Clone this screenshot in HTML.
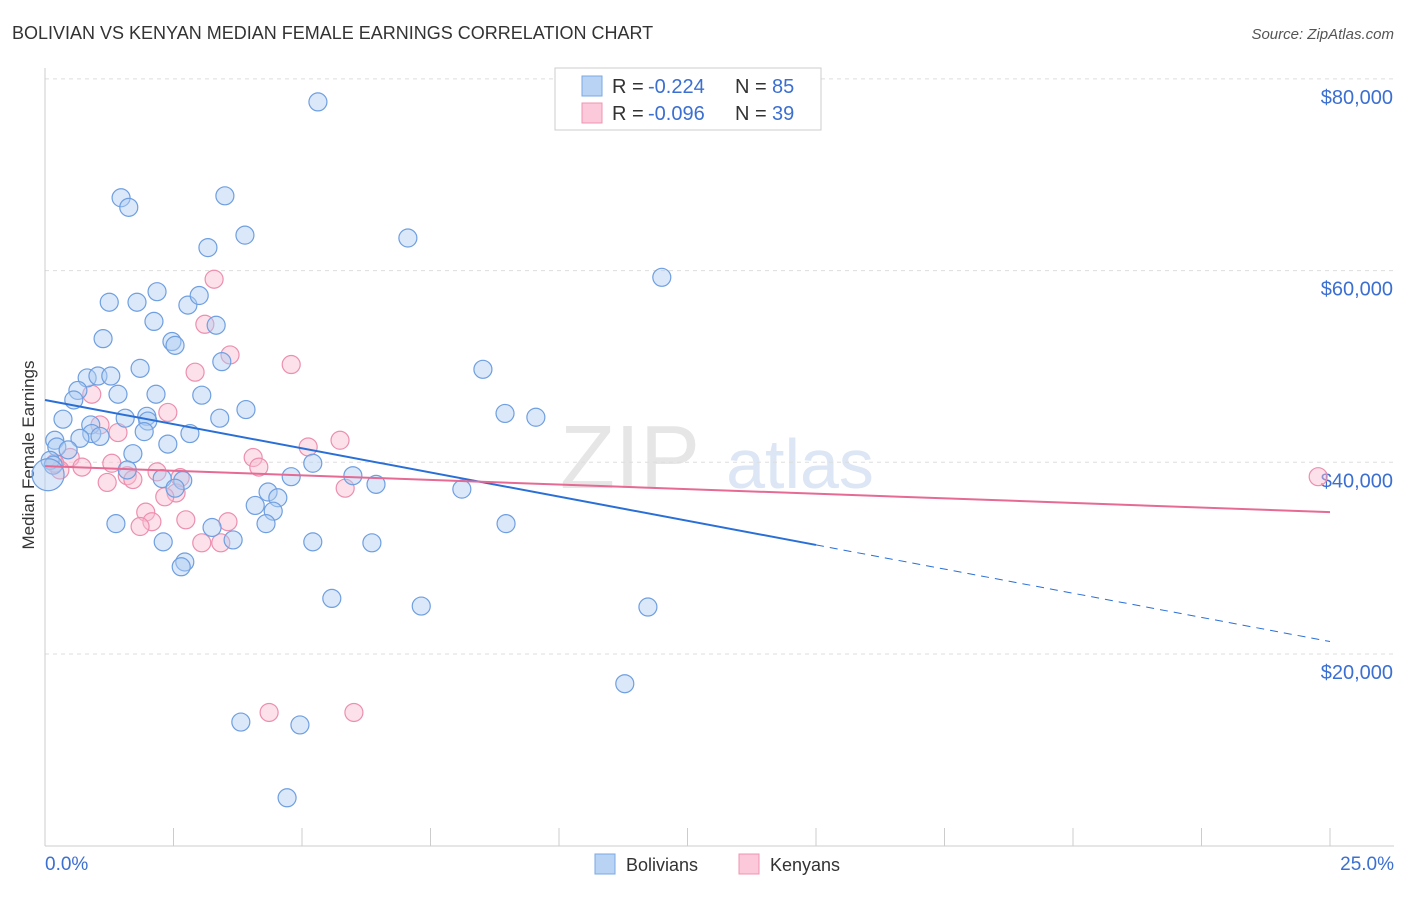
<!DOCTYPE html>
<html><head><meta charset="utf-8"><style>
body{margin:0;background:#fff;font-family:"Liberation Sans",sans-serif;}
svg text{font-family:"Liberation Sans",sans-serif;}
</style></head><body>
<svg id="c" width="1406" height="892">
<text x="12" y="39" font-size="18" fill="#333">BOLIVIAN VS KENYAN MEDIAN FEMALE EARNINGS CORRELATION CHART</text>
<text x="1394" y="39" font-size="15" fill="#555" font-style="italic" text-anchor="end">Source: ZipAtlas.com</text>
<text x="630" y="488" font-size="90" fill="#e6e6e6" font-family="Liberation Serif" text-anchor="middle">ZIP</text>
<text x="800" y="488" font-size="70" fill="#dce6f4" text-anchor="middle">atlas</text>
<text x="34" y="455" font-size="17" fill="#333" text-anchor="middle" transform="rotate(-90 34 455)">Median Female Earnings</text>
<g id="g"></g>
<g>
<rect x="555" y="68" width="266" height="62" fill="#fff" stroke="#ccc"/>
<rect x="582" y="76" width="20" height="20" fill="#b9d3f5" stroke="#7aa8e4"/>
<rect x="582" y="103" width="20" height="20" fill="#fbc9d9" stroke="#ef94b2"/>
<text x="612" y="93" font-size="20" fill="#333">R =</text>
<text x="648" y="93" font-size="20" fill="#3b6fd1">-0.224</text>
<text x="735" y="93" font-size="20" fill="#333">N =</text>
<text x="772" y="93" font-size="20" fill="#3b6fd1">85</text>
<text x="612" y="120" font-size="20" fill="#333">R =</text>
<text x="648" y="120" font-size="20" fill="#3b6fd1">-0.096</text>
<text x="735" y="120" font-size="20" fill="#333">N =</text>
<text x="772" y="120" font-size="20" fill="#3b6fd1">39</text>
</g>
<g>
<rect x="595" y="854" width="20" height="20" fill="#b9d3f5" stroke="#7aa8e4"/>
<text x="626" y="871" font-size="18" fill="#333">Bolivians</text>
<rect x="739" y="854" width="20" height="20" fill="#fbc9d9" stroke="#ef94b2"/>
<text x="770" y="871" font-size="18" fill="#333">Kenyans</text>
</g>
</svg>
<script>
const yTicks=[20000,40000,60000,80000];
const yTickLabels=["$20,000","$40,000","$60,000","$80,000"];
const xTickLabels=["0.0%","25.0%"];
const blueX=[5.31,1.48,1.63,3.50,3.89,3.17,7.06,12.00,1.25,1.79,2.18,2.78,3.00,2.12,3.33,1.13,2.47,2.53,3.44,1.85,0.82,1.03,1.28,8.52,0.64,1.42,2.16,3.05,0.56,3.91,8.95,9.55,0.35,1.56,1.98,2.00,3.40,1.93,2.82,0.89,0.91,0.68,1.07,0.19,2.39,0.23,0.45,1.71,0.10,0.16,5.21,1.60,4.79,5.99,2.28,2.68,6.44,2.53,8.11,4.34,4.53,4.09,4.44,1.38,3.25,4.30,8.97,3.66,2.30,5.21,6.36,2.72,2.65,5.58,7.32,11.73,11.28,3.81,4.96,4.71,0.06];
const blueY=[77.6,67.6,66.6,67.8,63.7,62.4,63.4,59.3,56.7,56.7,57.8,56.4,57.4,54.7,54.3,52.9,52.6,52.2,50.5,49.8,48.8,49.0,49.0,49.7,47.5,47.1,47.1,47.0,46.5,45.5,45.1,44.7,44.5,44.6,44.8,44.3,44.6,43.2,43.0,43.9,43.0,42.5,42.7,42.3,41.9,41.6,41.3,40.9,40.2,39.7,39.9,39.2,38.5,38.6,38.3,38.1,37.7,37.3,37.2,36.9,36.3,35.5,34.9,33.6,33.2,33.6,33.6,31.9,31.7,31.7,31.6,29.6,29.1,25.8,25.0,24.9,16.9,12.9,12.6,5.0,38.7];
const pinkX=[3.29,3.11,3.60,4.79,2.92,0.91,2.39,1.07,1.42,5.74,5.12,4.05,0.49,1.30,0.72,4.16,2.18,0.29,1.60,1.71,2.63,1.21,5.84,2.55,2.33,1.96,2.08,2.74,1.85,3.56,3.05,3.42,4.36,6.01,24.77,0.19];
const pinkY=[59.1,54.4,51.2,50.2,49.4,47.1,45.2,43.9,43.1,42.3,41.6,40.5,40.5,39.9,39.5,39.5,39.0,39.2,38.6,38.2,38.4,37.9,37.3,36.8,36.4,34.8,33.8,34.0,33.3,33.8,31.6,31.6,13.9,13.9,38.5,39.9];
const blueTrend=[46.5,21.3];
const pinkTrend=[39.6,34.8];
const blueSolidEnd=15;

const NS="http://www.w3.org/2000/svg";
const g=document.getElementById('g');
const X0=45,X1=1330,YB=845.7,PPK=191.7/20;
const sx=v=>X0+(X1-X0)*v/25;
const sy=k=>YB-k*PPK;
function mk(t,a){const e=document.createElementNS(NS,t);for(const k in a)e.setAttribute(k,a[k]);g.appendChild(e);return e;}
yTicks.forEach((t,i)=>{
 const y=sy(t/1000);
 const l=mk('line',{x1:X0,x2:1394,y1:y,y2:y,stroke:'#ddd','stroke-dasharray':'4 4'});
 
 
 const tx=mk('text',{x:1393,y:y+25,'font-size':20,fill:'#3b6fd1','text-anchor':'end'});
 tx.textContent=yTickLabels[i];
 
 
});
const ax=mk('line',{x1:X0,x2:X0,y1:68,y2:846,stroke:'#ccc'});


const xa=mk('line',{x1:X0,x2:1394,y1:846,y2:846,stroke:'#ccc'});


for(let i=1;i<=10;i++){const x=sx(i*2.5);const t=mk('line',{x1:x,x2:x,y1:828,y2:846,stroke:'#ccc'});
 
 }
[[0,'start',45],[25,'end',1394]].forEach((d,i)=>{const t=mk('text',{x:d[2],y:870,'font-size':19,fill:'#3b6fd1','text-anchor':d[1]});t.textContent=xTickLabels[i];
 
 });
function pts(xs,ys,fill,st,name){xs.forEach((v,i)=>{const big=(v<0.1&&Math.abs(ys[i]-38.7)<0.5);
 const c=mk('circle',{cx:sx(v),cy:sy(ys[i]),r:big?16:9,fill:fill,'fill-opacity':0.45,stroke:st,'stroke-width':1.2});
 
 });}
pts(pinkX,pinkY,'#f9bdd0','#ec8fae','kenyan-point');
pts(blueX,blueY,'#aecbf2','#6f9fe0','bolivian-point');
const yAt=(tr,x)=>tr[0]+(tr[1]-tr[0])*x/25;
const bl=mk('line',{x1:sx(0),y1:sy(yAt(blueTrend,0)),x2:sx(blueSolidEnd),y2:sy(yAt(blueTrend,blueSolidEnd)),stroke:'#2a6fd6','stroke-width':2});


const bd=mk('line',{x1:sx(blueSolidEnd),y1:sy(yAt(blueTrend,blueSolidEnd)),x2:sx(25),y2:sy(yAt(blueTrend,25)),stroke:'#2a6fd6','stroke-width':1,'stroke-dasharray':'8 6'});


const pl=mk('line',{x1:sx(0),y1:sy(pinkTrend[0]),x2:sx(25),y2:sy(pinkTrend[1]),stroke:'#e56a94','stroke-width':2});


</script>
</body></html>
